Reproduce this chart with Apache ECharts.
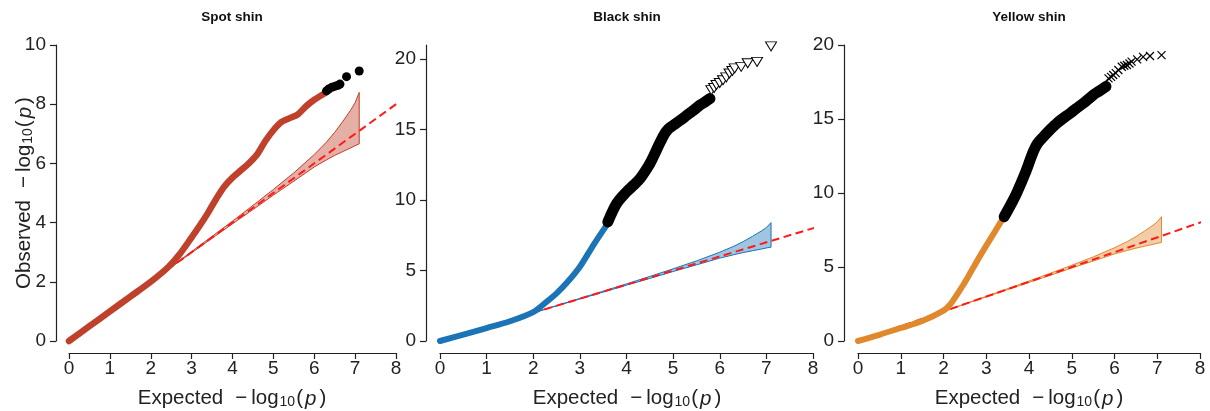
<!DOCTYPE html>
<html>
<head>
<meta charset="utf-8">
<script src="https://cdn.jsdelivr.net/npm/echarts@6/dist/echarts.min.js"></script>
<style>
  html, body { margin: 0; padding: 0; background: #fff; }
  #chart { width: 1210px; height: 411px; }
</style>
</head>
<body>
<div id="chart"></div>
<script>
// ---------- data ----------
const panelTitles = ['Spot shin', 'Black shin', 'Yellow shin'];
const xTicks = [0, 1, 2, 3, 4, 5, 6, 7, 8];
const yTicksSpot = [0, 2, 4, 6, 8, 10];
const yTicksBlack = [0, 5, 10, 15, 20];
const yTicksYellow = [0, 5, 10, 15, 20];

// expected-null reference line (y = x)
const refLineX = [-0.33, 8.33];

// confidence band around the null line
const bandX     = [0, 2, 3, 4, 4.5, 5, 5.5, 6, 6.3, 6.5, 6.7, 6.9, 7.0, 7.1];
const bandUpper = [0, 2.0, 3.02, 4.05, 4.58, 5.12, 5.68, 6.3, 6.72, 7.05, 7.42, 7.82, 8.05, 8.4];
const bandLower = [0, 2.0, 2.98, 3.96, 4.44, 4.93, 5.4, 5.88, 6.12, 6.27, 6.4, 6.53, 6.6, 6.66];

// Spot shin
const spotX = [0, 0.5, 1, 1.5, 2, 2.43, 2.7, 3.0, 3.2, 3.4, 3.6, 3.8, 4.0, 4.2, 4.4, 4.6, 4.8, 5.0, 5.2, 5.4, 5.6, 5.8, 6.0, 6.26];
const spotY = [0, 0.5, 1, 1.5, 2, 2.5, 2.92, 3.5, 3.9, 4.33, 4.8, 5.22, 5.52, 5.76, 6.0, 6.3, 6.75, 7.12, 7.4, 7.53, 7.66, 7.93, 8.15, 8.37];
const spotTopX = [6.3, 6.35, 6.43, 6.51, 6.58, 6.63, 6.79, 7.1];
const spotTopY = [8.45, 8.51, 8.57, 8.61, 8.64, 8.68, 8.93, 9.12];

// Black shin
const blackX = [0, 0.5, 1, 1.5, 2, 2.29, 2.5, 2.71, 3.0, 3.29, 3.6];
const blackY = [0, 0.45, 0.92, 1.4, 2.05, 2.79, 3.38, 4.09, 5.27, 6.81, 8.35];
const blackSegX = [3.6, 3.79, 4.0, 4.15, 4.29, 4.46, 4.55, 4.64, 4.73, 4.82, 4.9, 5.0, 5.15, 5.29, 5.45, 5.57, 5.68, 5.79];
const blackSegY = [8.45, 9.76, 10.58, 11.05, 11.52, 12.35, 12.9, 13.53, 14.15, 14.71, 15.05, 15.3, 15.65, 16.0, 16.4, 16.72, 16.95, 17.2];
const blackTopX = [5.82, 5.88, 5.93, 6.0, 6.07, 6.14, 6.21, 6.27, 6.32, 6.46, 6.6, 6.8, 7.1];
const blackTopY = [17.8, 17.95, 18.16, 18.3, 18.5, 18.7, 18.98, 19.15, 19.34, 19.45, 19.7, 19.8, 20.9];

// Yellow shin
const yellowX = [0, 0.5, 1, 1.5, 2, 2.15, 2.31, 2.46, 2.62, 2.89, 3.13, 3.32, 3.42];
const yellowY = [0, 0.42, 0.88, 1.35, 2.05, 2.45, 3.11, 3.78, 4.57, 5.92, 7.05, 7.95, 8.4];
const yellowSegX = [3.42, 3.6, 3.71, 3.91, 4.1, 4.2, 4.34, 4.5, 4.65, 4.8, 4.96, 5.1, 5.27, 5.5, 5.65, 5.8];
const yellowSegY = [8.4, 9.35, 9.98, 11.33, 12.79, 13.35, 13.81, 14.3, 14.71, 15.05, 15.38, 15.7, 16.06, 16.62, 16.9, 17.2];
const yellowTopX = [5.86, 5.92, 5.97, 6.03, 6.09, 6.17, 6.23, 6.29, 6.35, 6.4, 6.53, 6.67, 6.83, 7.1];
const yellowTopY = [17.75, 17.85, 17.97, 18.1, 18.31, 18.53, 18.6, 18.65, 18.75, 18.88, 19.03, 19.2, 19.26, 19.32];

// ---------- helpers ----------
const FONT = "'Liberation Sans', Arial, sans-serif";
const zip = (xs, ys) => xs.map((x, i) => [x, ys[i]]);

const grids = [
  { left: 69, top: 45, width: 327, height: 296 },
  { left: 440, top: 45, width: 373, height: 296 },
  { left: 858, top: 45, width: 342, height: 296 }
];
const yOffsets = [13, 14, 14];
const yRanges = [[0, 10, 2, yTicksSpot], [0, 21, 5, yTicksBlack], [0, 20, 5, yTicksYellow]];

function makeX(i) {
  return {
    gridIndex: i, type: 'value', min: xTicks[0], max: xTicks[xTicks.length - 1], interval: 1,
    offset: 12,
    splitLine: { show: false },
    axisLine: { show: true, onZero: false, lineStyle: { color: '#222', width: 1.2 } },
    axisTick: { show: true, length: 6, lineStyle: { color: '#222', width: 1.2 } },
    axisLabel: { fontSize: 19, color: '#222', margin: 6, fontFamily: FONT }
  };
}
function makeY(i) {
  const r = yRanges[i];
  return {
    gridIndex: i, type: 'value', min: r[0], max: r[1], interval: r[2],
    offset: yOffsets[i],
    splitLine: { show: false },
    axisLine: { show: true, onZero: false, lineStyle: { color: '#222', width: 1.2 } },
    axisTick: { show: true, length: 6, customValues: r[3], lineStyle: { color: '#222', width: 1.2 } },
    axisLabel: { fontSize: 19, color: '#222', margin: 10, fontFamily: FONT, customValues: r[3] }
  };
}
function bandSeries(i, fill, stroke) {
  return {
    type: 'custom', xAxisIndex: i, yAxisIndex: i, z: 1, silent: true,
    data: [[0, 0]],
    renderItem: function (params, api) {
      const pts = [];
      for (let k = 0; k < bandX.length; k++) pts.push(api.coord([bandX[k], bandUpper[k]]));
      for (let k = bandX.length - 1; k >= 0; k--) pts.push(api.coord([bandX[k], bandLower[k]]));
      return { type: 'polygon', shape: { points: pts }, style: { fill: fill, stroke: stroke, lineWidth: 1 } };
    }
  };
}
function refSeries(i) {
  return {
    type: 'line', xAxisIndex: i, yAxisIndex: i, z: 3, clip: false, silent: true,
    showSymbol: false, symbol: 'none',
    data: zip(refLineX, refLineX),
    lineStyle: { color: '#ff1a1a', width: 2, type: [8, 4.5] }
  };
}
function curveSeries(i, xs, ys, color, width, z) {
  return {
    type: 'line', xAxisIndex: i, yAxisIndex: i, z: z, clip: false, silent: true,
    showSymbol: false, symbol: 'none', smooth: 0.3,
    data: zip(xs, ys),
    lineStyle: { color: color, width: width, cap: 'round', join: 'round' }
  };
}

const C1 = '#c0412b', C2 = '#1a74b5', C3 = '#e0892c';

const series = [
  bandSeries(0, 'rgba(192,65,43,0.42)', C1),
  refSeries(0),
  curveSeries(0, spotX, spotY, C1, 6.5, 4),
  { type: 'scatter', xAxisIndex: 0, yAxisIndex: 0, z: 6, silent: true, clip: false,
    symbol: 'circle', symbolSize: 9, data: zip(spotTopX, spotTopY), itemStyle: { color: '#000', opacity: 1 } },

  bandSeries(1, 'rgba(26,116,181,0.42)', C2),
  refSeries(1),
  curveSeries(1, blackX, blackY, C2, 6, 4),
  curveSeries(1, blackSegX, blackSegY, '#000', 11, 5),
  { type: 'scatter', xAxisIndex: 1, yAxisIndex: 1, z: 6, silent: true, clip: false,
    symbol: 'triangle', symbolRotate: 180, symbolSize: [11, 9], data: zip(blackTopX, blackTopY),
    itemStyle: { color: '#fff', borderColor: '#000', borderWidth: 1, opacity: 1 } },

  bandSeries(2, 'rgba(224,137,44,0.42)', C3),
  refSeries(2),
  curveSeries(2, yellowX, yellowY, C3, 6, 4),
  curveSeries(2, yellowSegX, yellowSegY, '#000', 11, 5),
  { type: 'scatter', xAxisIndex: 2, yAxisIndex: 2, z: 6, silent: true, clip: false,
    symbol: 'path://M0,0L10,10M10,0L0,10', symbolSize: 8, data: zip(yellowTopX, yellowTopY),
    itemStyle: { color: 'none', borderColor: '#000', borderWidth: 1.2, opacity: 1 } }
];

const rich = {
  a: { fontSize: 20.5, fontFamily: FONT, lineHeight: 30, verticalAlign: 'bottom', fill: '#222' },
  m: { fontSize: 20.5, fontFamily: FONT, lineHeight: 30, verticalAlign: 'bottom', fill: '#222', padding: [0, 4, 0, 12] },
  i: { fontSize: 20.5, fontFamily: FONT, fontStyle: 'italic', lineHeight: 30, verticalAlign: 'bottom', fill: '#222', padding: [0, 3, 0, 2] },
  s: { fontSize: 14, fontFamily: FONT, lineHeight: 18, verticalAlign: 'bottom', fill: '#222', padding: [0, 1, 0, 1] }
};
function label(text, x, y, rot) {
  return {
    type: 'text', x: x, y: y, rotation: rot || 0, silent: true,
    style: { text: text, rich: rich, align: 'center', verticalAlign: 'middle', fill: '#222' }
  };
}
const xName = '{a|Expected}{m|\u2212}{a|log}{s|10}{a|(}{i|p}{a|)}';
const yName = '{a|Observed}{m|\u2212}{a|log}{s|10}{a|(}{i|p}{a|)}';
const titleCenters = [232, 627, 1029];

const graphic = [];
titleCenters.forEach((cx, i) => {
  graphic.push({
    type: 'text', x: cx, y: 17, silent: true,
    style: { text: panelTitles[i], fontSize: 13.5, fontWeight: 'bold', fontFamily: FONT, fill: '#111',
             align: 'center', verticalAlign: 'middle' }
  });
  graphic.push(label(xName, cx, 394));
});
graphic.push(label(yName, 20, 193, Math.PI / 2));

const chart = echarts.init(document.getElementById('chart'), null, { renderer: 'canvas' });
chart.setOption({
  animation: false,
  backgroundColor: '#fff',
  grid: grids,
  xAxis: [makeX(0), makeX(1), makeX(2)],
  yAxis: [makeY(0), makeY(1), makeY(2)],
  series: series,
  graphic: graphic
});
</script>
</body>
</html>
